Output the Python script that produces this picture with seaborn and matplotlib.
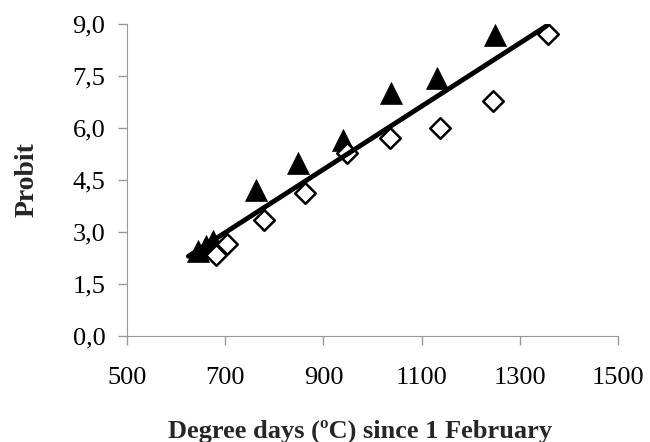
import seaborn as sns
import pandas as pd
import matplotlib.pyplot as plt

# values
tri_x = [645, 660, 675, 763, 848, 940, 1038, 1132, 1250]
tri_y = [2.45, 2.6, 2.75, 4.2, 5.0, 5.65, 7.0, 7.44, 8.68]
dia_x = [681, 704, 779, 862, 948, 1036, 1137, 1246, 1357]
dia_y = [2.34, 2.65, 3.35, 4.13, 5.28, 5.71, 6.0, 6.78, 8.71]
fit_x = [625, 1355]
fit_y = [2.3, 8.95]

x_ticks = [500, 700, 900, 1100, 1300, 1500]
y_ticks = [0.0, 1.5, 3.0, 4.5, 6.0, 7.5, 9.0]
y_labels = ["0,0", "1,5", "3,0", "4,5", "6,0", "7,5", "9,0"]

sns.set_style("ticks")
plt.rcParams["font.family"] = ["Liberation Serif", "DejaVu Serif"]

tri = pd.DataFrame({"x": tri_x, "y": tri_y})
dia = pd.DataFrame({"x": dia_x, "y": dia_y})
fit = pd.DataFrame({"x": fit_x, "y": fit_y})

fig = plt.figure(figsize=(6.5, 4.42), dpi=100)
ax = fig.add_axes([0.1954, 0.2398, 0.7554, 0.7059])

sns.scatterplot(data=tri, x="x", y="y", marker="^", s=250, color="black",
                edgecolor="black", linewidth=0.5, ax=ax, zorder=3)
sns.scatterplot(data=dia, x="x", y="y", marker="D", s=110, facecolor="white",
                edgecolor="black", linewidth=1.8, ax=ax, zorder=3)
sns.lineplot(data=fit, x="x", y="y", color="black", linewidth=3.5, ax=ax, zorder=4)

ax.set_xlim(500, 1500)
ax.set_ylim(0, 9)
ax.set_xticks(x_ticks)
ax.set_xticklabels([str(v) for v in x_ticks])
ax.set_yticks(y_ticks)
ax.set_yticklabels(y_labels)
ax.tick_params(labelsize=19, colors="#999999", labelcolor="black", length=6.5, width=1)
ax.tick_params(axis="x", pad=16)
ax.tick_params(axis="y", pad=9)
for s in ["left", "bottom"]:
    ax.spines[s].set_color("#999999")
sns.despine(ax=ax)

ax.set_xlabel("Degree days (ºC) since 1 February", fontsize=19, fontweight="bold")
ax.set_ylabel("Probit", fontsize=20, fontweight="bold")
ax.xaxis.set_label_coords(0.475, -0.268)
ax.yaxis.set_label_coords(-0.178, 0.5)

fig.savefig("out.png", dpi=100)
